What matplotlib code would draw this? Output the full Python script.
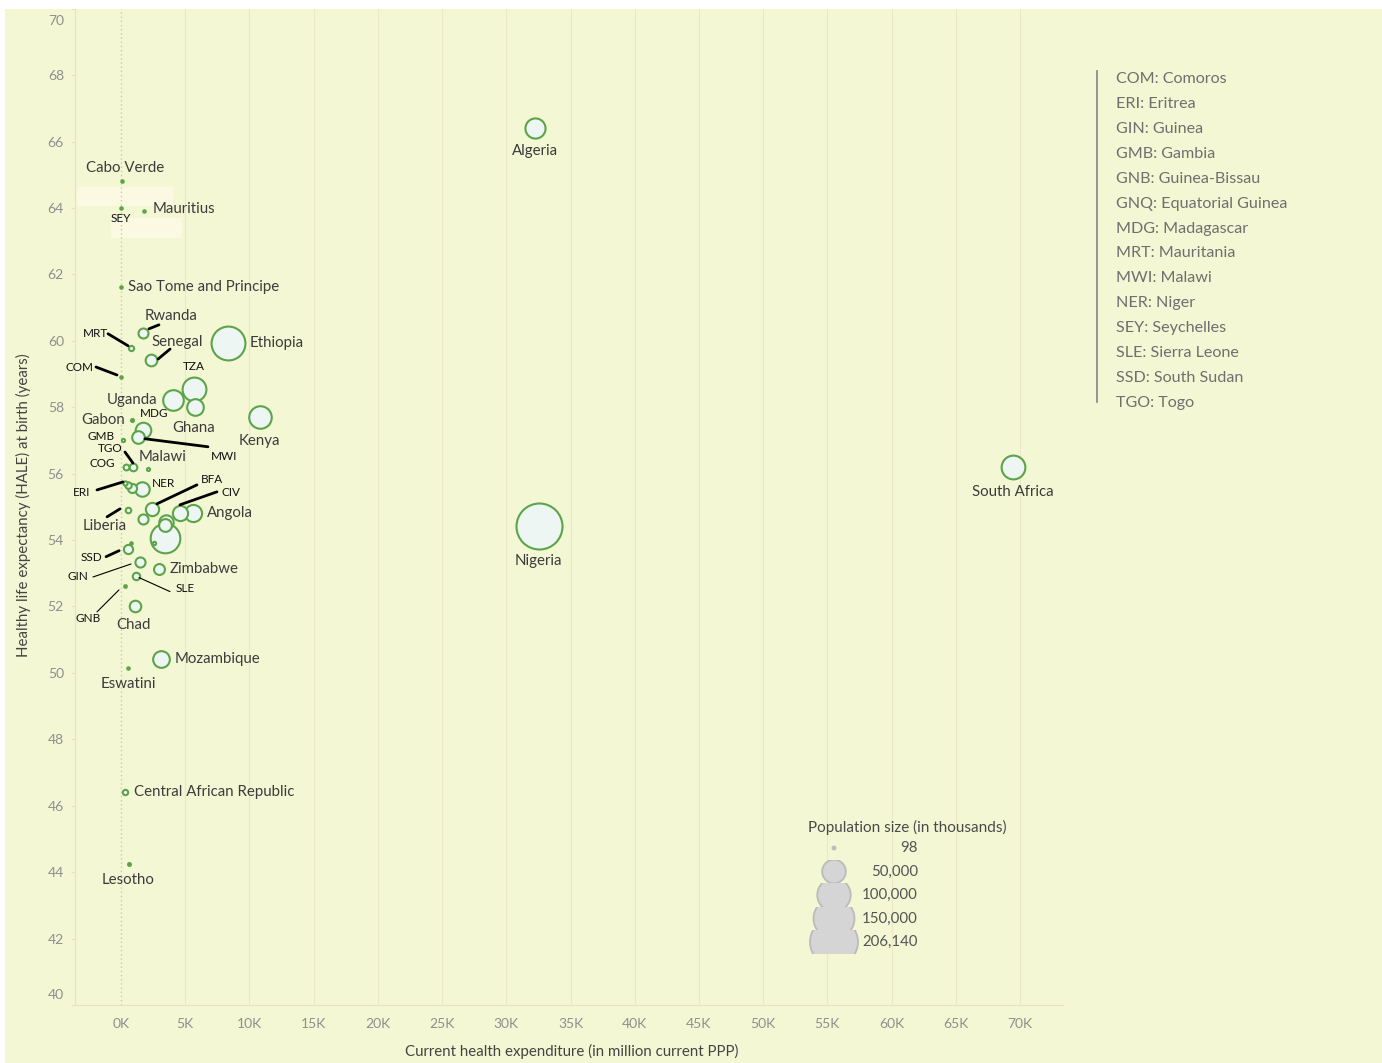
import numpy as np
import matplotlib
matplotlib.use('Agg')
import matplotlib.pyplot as plt
from matplotlib.patches import Rectangle, Circle
from matplotlib.transforms import offset_copy, ScaledTranslation

plt.rcParams['font.family'] = ['Lato', 'DejaVu Sans']

# data (expenditure in thousand million PPP, HALE in years, population in thousands)
countries = ['Algeria', 'Cabo Verde', 'Seychelles', 'Mauritius', 'Sao Tome and Principe',
             'Rwanda', 'Mauritania', 'Senegal', 'Ethiopia', 'Comoros', 'Tanzania', 'Uganda',
             'Ghana', 'Kenya', 'Gabon', 'Madagascar', 'Malawi', 'Gambia', 'Congo', 'Togo',
             'Botswana', 'Eritrea', 'Burundi', 'Benin', 'Niger', 'Liberia', 'Burkina Faso',
             'Mali', "Cote d'Ivoire", 'Angola', 'DR Congo', 'Zambia', 'Cameroon', 'Namibia',
             'Equatorial Guinea', 'South Sudan', 'Guinea', 'Zimbabwe', 'Sierra Leone',
             'Guinea-Bissau', 'Chad', 'Mozambique', 'Eswatini', 'Central African Republic',
             'Lesotho', 'South Africa', 'Nigeria']
health_exp = [32.24, 0.08, 0.0, 1.79, 0.0,
              1.71, 0.78, 2.34, 8.33, 0.0, 5.68, 4.05,
              5.76, 10.82, 0.86, 1.71, 1.32, 0.16, 0.39, 0.93,
              2.10, 0.31, 0.55, 0.86, 1.64, 0.55, 2.41,
              1.71, 4.59, 5.61, 3.43, 3.43, 3.50, 2.57,
              0.78, 0.55, 1.48, 2.96, 1.17,
              0.31, 1.09, 3.11, 0.55, 0.31,
              0.62, 69.45, 32.55]
hale = [66.41, 64.81, 64.01, 63.91, 61.62,
        60.24, 59.79, 59.42, 59.94, 58.91, 58.55, 58.22,
        58.01, 57.71, 57.62, 57.32, 57.11, 57.02, 56.20, 56.20,
        56.14, 55.72, 55.66, 55.57, 55.54, 54.91, 54.94,
        54.64, 54.82, 54.82, 54.07, 54.46, 54.55, 53.92,
        53.92, 53.74, 53.34, 53.13, 52.93,
        52.62, 52.02, 50.42, 50.15, 46.42,
        44.25, 56.20, 54.43]
population = [43851, 556, 98, 1272, 219,
              12952, 4650, 16744, 114964, 870, 59734, 45741,
              31073, 53771, 2226, 27691, 19130, 2417, 5518, 8279,
              2352, 3546, 6500, 11000, 24207, 5058, 20903,
              13000, 26378, 32866, 89561, 19500, 24000, 2541,
              1403, 11194, 13133, 14863, 7977,
              1968, 16426, 31255, 1160, 4830,
              2142, 59309, 206140]

legend_codes = ['COM: Comoros', 'ERI: Eritrea', 'GIN: Guinea', 'GMB: Gambia', 'GNB: Guinea-Bissau',
                'GNQ: Equatorial Guinea', 'MDG: Madagascar', 'MRT: Mauritania', 'MWI: Malawi',
                'NER: Niger', 'SEY: Seychelles', 'SLE: Sierra Leone', 'SSD: South Sudan', 'TGO: Togo']
size_legend = [98, 50000, 100000, 150000, 206140]
size_legend_labels = ['98', '50,000', '100,000', '150,000', '206,140']
xticks = np.arange(0, 75, 5)
yticks = np.arange(40, 72, 2)

# label layout: country -> list of (text, dx px, dy px, ha, is_code)
labels = {
    'Algeria': [('Algeria', 0, 23, 'center', False)],
    'Cabo Verde': [('Cabo Verde', 3, -13, 'center', False)],
    'Seychelles': [('SEY', 0, 11, 'center', True)],
    'Mauritius': [('Mauritius', 9, -2, 'left', False)],
    'Sao Tome and Principe': [('Sao Tome and Principe', 7, 0, 'left', False)],
    'Rwanda': [('Rwanda', 28, -17, 'center', False)],
    'Mauritania': [('MRT', -36, -14, 'center', True)],
    'Senegal': [('Senegal', 26, -18, 'center', False)],
    'Ethiopia': [('Ethiopia', 22, 0, 'left', False)],
    'Comoros': [('COM', -42, -9, 'center', True)],
    'Tanzania': [('TZA', 0, -22, 'center', True)],
    'Uganda': [('Uganda', -16, 0, 'right', False)],
    'Ghana': [('Ghana', -1, 21, 'center', False)],
    'Kenya': [('Kenya', -1, 24, 'center', False)],
    'Gabon': [('Gabon', -7, 0, 'right', False)],
    'Madagascar': [('MDG', 11, -16, 'center', True)],
    'Malawi': [('Malawi', 25, 20, 'center', False), ('MWI', 86, 20, 'center', True)],
    'Gambia': [('GMB', -22, -3, 'center', True)],
    'Congo': [('COG', -24, -3, 'center', True)],
    'Togo': [('TGO', -23, -18, 'center', True)],
    'Eritrea': [('ERI', -43, 10, 'center', True)],
    'Niger': [('NER', 21, -5, 'center', True)],
    'Burkina Faso': [('BFA', 60, -29, 'center', True)],
    "Cote d'Ivoire": [('CIV', 51, -20, 'center', True)],
    'Angola': [('Angola', 14, 0, 'left', False)],
    'Liberia': [('Liberia', -23, 16, 'center', False)],
    'South Sudan': [('SSD', -37, 9, 'center', True)],
    'Guinea': [('GIN', -62, 15, 'center', True)],
    'Zimbabwe': [('Zimbabwe', 11, 0, 'left', False)],
    'Sierra Leone': [('SLE', 49, 13, 'center', True)],
    'Guinea-Bissau': [('GNB', -37, 33, 'center', True)],
    'Chad': [('Chad', -2, 19, 'center', False)],
    'Mozambique': [('Mozambique', 14, 0, 'left', False)],
    'Eswatini': [('Eswatini', 0, 16, 'center', False)],
    'Central African Republic': [('Central African Republic', 9, 0, 'left', False)],
    'Lesotho': [('Lesotho', -1, 16, 'center', False)],
    'South Africa': [('South Africa', 0, 25, 'center', False)],
    'Nigeria': [('Nigeria', -1, 35, 'center', False)],
}
# leader lines: country -> (start dx, start dy, end dx, end dy, thick)
leaders = {
    'Rwanda': (16, -8, 6, -4, True),
    'Mauritania': (-23, -14, -3, -2, True),
    'Senegal': (19, -11, 7, -1, True),
    'Comoros': (-25, -10, -4, -2, True),
    'Malawi': (70, 10, 7, 2, True),
    'Togo': (-8, -15, 0, -4, True),
    'Eritrea': (-28, 7, -2, -1, True),
    'Burkina Faso': (45, -24, 5, -5, True),
    "Cote d'Ivoire": (37, -21, 0, -8, True),
    'Liberia': (-21, 7, -8, -1, True),
    'South Sudan': (-22, 8, -9, 2, True),
    'Guinea': (-47, 15, -9, 2, False),
    'Sierra Leone': (34, 16, 3, 2, False),
    'Guinea-Bissau': (-28, 26, -6, 4, False),
}

W, H = 1382, 1063
BG = '#f4f7d3'
GREEN = '#5ca449'
FILL = '#eef6f3'


def radius_px(p):
    return 24 * np.sqrt(p / 206140.0)


fig = plt.figure(figsize=(W / 100, H / 100), dpi=100)
fig.patches.append(Rectangle((5 / W, 0), 1 - 5 / W, 1 - 9 / H, transform=fig.transFigure,
                             facecolor=BG, edgecolor='none', zorder=-10))

ax = fig.add_axes([75 / W, 1 - 1005 / H, (1063 - 75) / W, (1005 - 8.7) / H])
ax.set_facecolor('none')
ax.set_xlim(-46 / 12.843, 942 / 12.843)
ax.set_ylim(40, 70)

for s in ['top', 'right']:
    ax.spines[s].set_visible(False)
for s in ['left', 'bottom']:
    ax.spines[s].set_color('#e6e3c2')
    ax.spines[s].set_linewidth(0.8)

ax.set_xticks(xticks)
ax.set_xticklabels([f'{v}K' for v in xticks])
ax.set_yticks(yticks)
ax.tick_params(axis='x', length=0, pad=9, labelsize=10, labelcolor='#8f8f8f')
ax.tick_params(axis='y', length=3, color='#e6e3c2', pad=5, labelsize=10, labelcolor='#8f8f8f')
# end labels are pulled inside the plot area, as in the reference
for lab in ax.get_yticklabels():
    if lab.get_text() == '70':
        lab.set_transform(lab.get_transform() + ScaledTranslation(0, -0.11, fig.dpi_scale_trans))
    elif lab.get_text() == '40':
        lab.set_transform(lab.get_transform() + ScaledTranslation(0, 0.11, fig.dpi_scale_trans))
for v in xticks[1:]:
    ax.axvline(v, color='#ebe8c7', lw=0.8, zorder=0)
ax.axvline(0, color='#c9c9b4', lw=1, ls=(0, (1, 2)), zorder=0)

# pale label boxes near Seychelles / Mauritius
for (x0, y0, x1, y1) in [(77, 187, 173, 206), (111, 218, 182, 238)]:
    fig.patches.append(Rectangle((x0 / W, 1 - y1 / H), (x1 - x0) / W, (y1 - y0) / H,
                                 transform=fig.transFigure, facecolor='#fbf9e2',
                                 edgecolor='none', zorder=-5))

# bubbles, biggest first so small ones stay visible
order = np.argsort(population)[::-1]
for i in order:
    r = radius_px(population[i])
    d = max(2 * (r - 1), 2.5) * 0.72
    fc = GREEN if r < 2.5 else FILL
    ax.scatter(health_exp[i], hale[i], s=d ** 2, facecolor=fc, edgecolor=GREEN,
               linewidth=1.5, zorder=3)

for i, name in enumerate(countries):
    for (txt, dx, dy, ha, is_code) in labels.get(name, []):
        ax.annotate(txt, xy=(health_exp[i], hale[i]), xytext=(dx, -dy),
                    textcoords='offset pixels', ha=ha, va='center',
                    fontsize=8.5 if is_code else 10.8,
                    color='#111111' if is_code else '#3c3c3c', zorder=5)
    if name in leaders:
        sx, sy, ex, ey, thick = leaders[name]
        ax.annotate('', xy=(health_exp[i], hale[i]),
                    xycoords=offset_copy(ax.transData, fig=fig, x=ex, y=-ey, units='dots'),
                    xytext=(health_exp[i], hale[i]),
                    textcoords=offset_copy(ax.transData, fig=fig, x=sx, y=-sy, units='dots'),
                    arrowprops=dict(arrowstyle='-', lw=2.0 if thick else 0.8,
                                    color='black', shrinkA=0, shrinkB=0),
                    zorder=4)

# axis titles
fig.text(572 / W, 1 - 1051 / H, 'Current health expenditure (in million current PPP)',
         ha='center', va='center', fontsize=10.8, color='#444444')
fig.text(23 / W, 1 - 505 / H, 'Healthy life expectancy (HALE) at birth (years)',
         ha='center', va='center', rotation=90, fontsize=10.8, color='#444444')

# overlay in pixel coords for the legends
ov = fig.add_axes([0, 0, 1, 1])
ov.set_xlim(0, W)
ov.set_ylim(H, 0)
ov.axis('off')
ov.patch.set_alpha(0)

ov.plot([1097, 1097], [71, 402], color='#858585', lw=1.2)
for k, t in enumerate(legend_codes):
    ty = 79 + k * (403 - 79) / (len(legend_codes) - 1)
    ov.text(1116, ty, t, ha='left', va='center', fontsize=11.6, color='#6f6f6f')

ov.text(907, 827, 'Population size (in thousands)', ha='center', va='center',
        fontsize=11, color='#4a4a4a')
row_h = 23.5
for k, (p, lab) in enumerate(zip(size_legend, size_legend_labels)):
    cy = 848 + k * row_h
    r = max(radius_px(p), 1.5)
    c = Circle((834, cy), r, facecolor='#d5d5d5', edgecolor='#bbbbbb', lw=1.3)
    ov.add_patch(c)
    clip = Rectangle((800, cy - row_h / 2), 70, row_h, transform=ov.transData,
                     facecolor='none', edgecolor='none')
    c.set_clip_path(clip)
    ov.text(918, cy, lab, ha='right', va='center', fontsize=10.8, color='#555555')

fig.savefig('out.png', dpi=100, facecolor='white')
